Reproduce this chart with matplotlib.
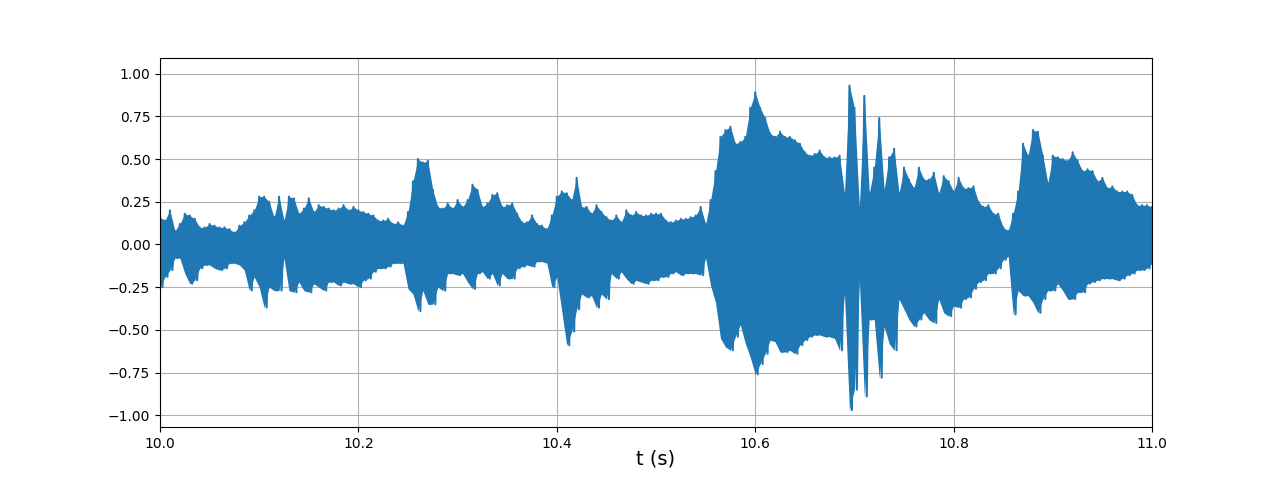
import numpy as np
import matplotlib
matplotlib.use("Agg")
import matplotlib.pyplot as plt

# envelope of the waveform, every 5 ms (10.000 .. 11.000 s)
t_start = 10.0
t_step = 0.005

upper = [
    # 10.000 - 10.160
    0.16, 0.14, 0.20, 0.08, 0.12, 0.18, 0.17, 0.15, 0.10, 0.10, 0.12, 0.11, 0.10, 0.10, 0.09, 0.07,
    0.11, 0.13, 0.17, 0.20, 0.28, 0.28, 0.25, 0.16, 0.28, 0.14, 0.28, 0.27, 0.18, 0.21, 0.27, 0.19, 0.23,
    # 10.165 - 10.325
    0.22, 0.21, 0.20, 0.21, 0.23, 0.20, 0.22, 0.20, 0.19, 0.18, 0.17, 0.14, 0.14, 0.15, 0.12, 0.13,
    0.11, 0.19, 0.37, 0.50, 0.48, 0.49, 0.32, 0.22, 0.21, 0.24, 0.21, 0.26, 0.22, 0.26, 0.35, 0.32, 0.22,
    # 10.330 - 10.495
    0.24, 0.29, 0.30, 0.22, 0.23, 0.24, 0.18, 0.13, 0.13, 0.17, 0.12, 0.11, 0.09, 0.17, 0.28, 0.31,
    0.30, 0.26, 0.39, 0.22, 0.22, 0.18, 0.23, 0.19, 0.16, 0.14, 0.17, 0.13, 0.20, 0.17, 0.19, 0.17, 0.17, 0.18,
    # 10.500 - 10.660
    0.18, 0.18, 0.14, 0.13, 0.14, 0.15, 0.15, 0.16, 0.17, 0.22, 0.12, 0.26, 0.43, 0.63, 0.67, 0.69,
    0.59, 0.60, 0.63, 0.80, 0.89, 0.80, 0.74, 0.65, 0.63, 0.66, 0.63, 0.63, 0.61, 0.59, 0.54, 0.52, 0.53,
    # 10.665 - 10.825
    0.55, 0.51, 0.51, 0.51, 0.52, 0.30, 0.93, 0.80, 0.22, 0.87, 0.30, 0.45, 0.74, 0.32, 0.51, 0.56,
    0.30, 0.45, 0.38, 0.33, 0.45, 0.38, 0.38, 0.42, 0.30, 0.40, 0.37, 0.31, 0.39, 0.33, 0.33, 0.34, 0.25,
    # 10.830 - 11.000
    0.22, 0.23, 0.18, 0.18, 0.10, 0.08, 0.18, 0.31, 0.59, 0.52, 0.67, 0.66, 0.52, 0.36, 0.52, 0.51,
    0.50, 0.49, 0.54, 0.49, 0.43, 0.44, 0.43, 0.37, 0.39, 0.33, 0.34, 0.31, 0.31, 0.31, 0.29, 0.23,
    0.23, 0.23, 0.22,
]

lower = [
    # 10.000 - 10.160
    -0.25, -0.19, -0.15, -0.08, -0.08, -0.17, -0.23, -0.21, -0.14, -0.12, -0.12, -0.14, -0.15, -0.14,
    -0.11, -0.11, -0.12, -0.15, -0.27, -0.19, -0.25, -0.37, -0.25, -0.27, -0.27, -0.08, -0.27, -0.28,
    -0.22, -0.27, -0.28, -0.23, -0.25,
    # 10.165 - 10.325
    -0.27, -0.22, -0.22, -0.24, -0.22, -0.23, -0.23, -0.25, -0.21, -0.20, -0.16, -0.14, -0.14, -0.13,
    -0.11, -0.11, -0.11, -0.26, -0.29, -0.39, -0.27, -0.35, -0.35, -0.25, -0.27, -0.17, -0.17, -0.18,
    -0.17, -0.22, -0.26, -0.17, -0.16,
    # 10.330 - 10.495
    -0.20, -0.17, -0.24, -0.17, -0.20, -0.20, -0.14, -0.13, -0.12, -0.13, -0.10, -0.10, -0.11, -0.25,
    -0.19, -0.39, -0.59, -0.51, -0.38, -0.29, -0.31, -0.30, -0.37, -0.29, -0.32, -0.17, -0.20, -0.16,
    -0.20, -0.23, -0.21, -0.22, -0.23, -0.21,
    # 10.500 - 10.660
    -0.21, -0.19, -0.19, -0.17, -0.16, -0.18, -0.17, -0.17, -0.17, -0.18, -0.08, -0.24, -0.34, -0.55,
    -0.60, -0.62, -0.54, -0.47, -0.58, -0.66, -0.76, -0.70, -0.64, -0.56, -0.57, -0.63, -0.63, -0.62,
    -0.64, -0.59, -0.56, -0.54, -0.53,
    # 10.665 - 10.825
    -0.53, -0.54, -0.54, -0.55, -0.62, -0.29, -0.97, -0.85, -0.21, -0.89, -0.44, -0.44, -0.78, -0.48,
    -0.58, -0.62, -0.32, -0.38, -0.44, -0.48, -0.44, -0.40, -0.44, -0.46, -0.32, -0.40, -0.42, -0.36,
    -0.37, -0.32, -0.31, -0.26, -0.22,
    # 10.830 - 11.000
    -0.21, -0.17, -0.17, -0.14, -0.09, -0.07, -0.41, -0.27, -0.30, -0.30, -0.34, -0.40, -0.32, -0.27,
    -0.27, -0.23, -0.27, -0.32, -0.32, -0.28, -0.28, -0.23, -0.22, -0.21, -0.20, -0.20, -0.20, -0.21,
    -0.20, -0.18, -0.17, -0.15, -0.15, -0.14, -0.11,
]

# each 5 ms slot: a peak at the slot start, a trough half a slot later
n = len(upper)
t_up = t_start + t_step * np.arange(n)
t_low = t_up + t_step / 2
t = np.column_stack([t_up, t_low]).ravel()
y = np.column_stack([upper, lower]).ravel()

blue = '#1f77b4'
fig = plt.figure(figsize=(12.8, 4.8), dpi=100)
ax = fig.add_subplot(111)
# dense samples render as a solid band between the envelopes
ax.fill_between(t_up, lower, upper, color=blue, linewidth=0, zorder=2)
ax.plot(t, y, color=blue, linewidth=1.5, zorder=2)
ax.set_xlim(10.0, 11.0)
ax.set_ylim(-1.07, 1.094)
ax.set_xlabel("t (s)", fontsize=14, labelpad=-1)
ax.grid(True)

fig.savefig("out.png", dpi=100)
